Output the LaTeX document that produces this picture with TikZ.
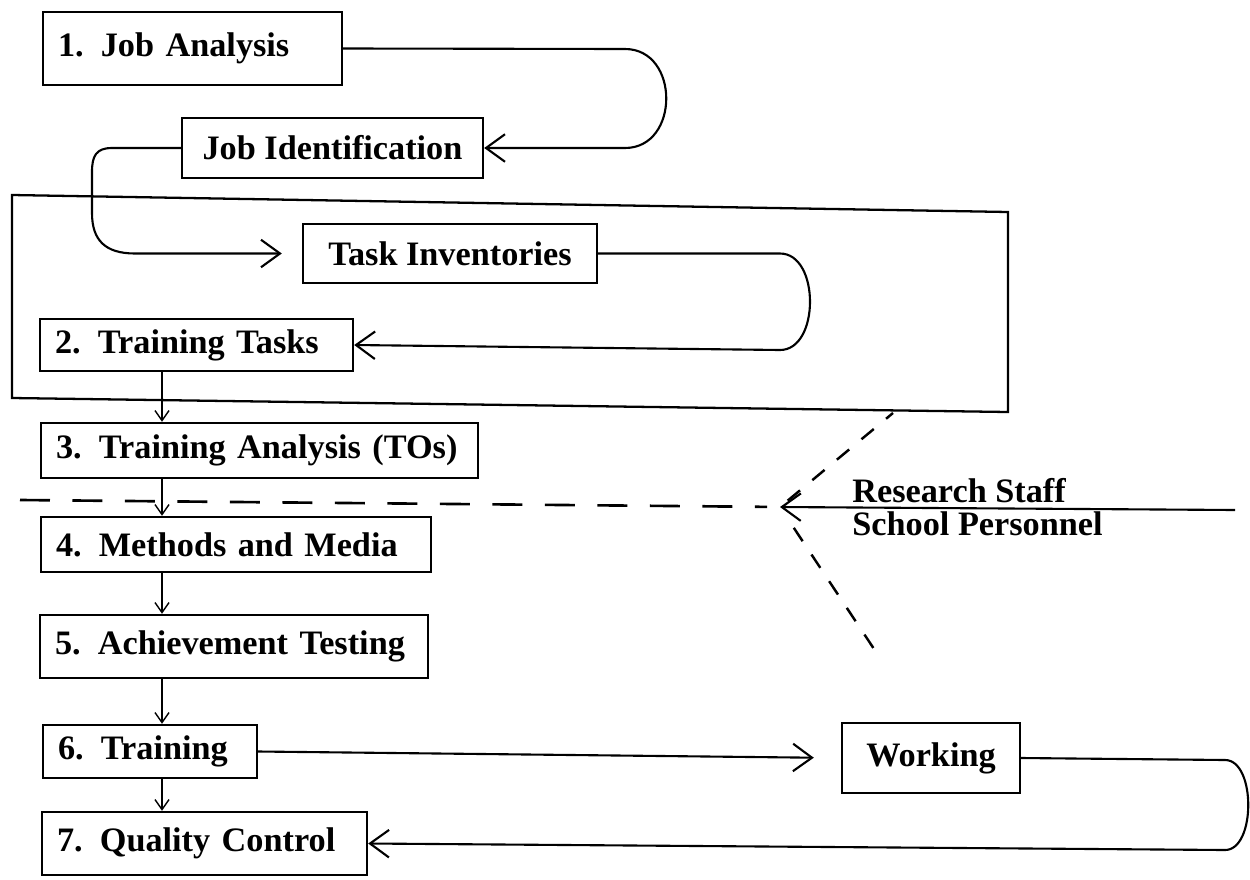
\documentclass[tikz,border=0pt]{standalone}
\usepackage{fontspec}
\setmainfont{Liberation Serif}
\usetikzlibrary{arrows.meta}
\begin{document}
\begin{tikzpicture}[x=0.02cm,y=-0.02cm,
  txt/.style={font=\bfseries\fontsize{19.5}{22}\selectfont},
  box/.style={txt, draw, line width=1.4pt, inner xsep=0.3cm, inner ysep=0pt, align=left},
  cbox/.style={txt, draw, line width=1.4pt, inner sep=0pt, align=center},
  conn/.style={line width=1.2pt, -{Straight Barb[length=0.38cm,width=0.55cm]}},
  down/.style={line width=0.8pt, -{Straight Barb[length=0.2cm,width=0.28cm]}},
  frame/.style={line width=1.3pt},
  dashh/.style={line width=1.5pt, dash pattern=on 0.6cm off 0.45cm},
  dashd/.style={line width=1.4pt, dash pattern=on 0.32cm off 0.32cm},
  lbl/.style={font=\bfseries\fontsize{19.5}{19}\selectfont, inner sep=0pt, align=left, anchor=north west}
]
\useasboundingbox (0,0) rectangle (1250,879);

% outer frame (slightly skewed as in the scan)
\draw[frame] (12,195) -- (1008,212) -- (1008,412) -- (12,398) -- cycle;

% boxes
\node[box, text width=5.38cm, minimum height=1.46cm] (ja) at (192.5,48.5) {1.\enspace Job Analysis};
\node[cbox, minimum width=6.02cm, minimum height=1.2cm] (jid) at (332.5,148) {Job Identification};
\node[cbox, minimum width=5.88cm, minimum height=1.18cm] (ti) at (450,253.5) {Task Inventories};
\node[box, text width=5.66cm, minimum height=1.04cm] (tt) at (196.5,345) {2. Training Tasks};
\node[box, text width=8.14cm, minimum height=1.1cm] (ta) at (259.5,450.5) {3. Training Analysis (TOs)};
\node[box, text width=7.2cm, minimum height=1.1cm] (mm) at (236,544.5) {4. Methods and Media};
\node[box, text width=7.16cm, minimum height=1.26cm] (at) at (234,646.5) {5. Achievement Testing};
\node[box, text width=3.68cm, minimum height=1.06cm] (tr) at (150,751.5) {6. Training};
\node[box, text width=5.9cm, minimum height=1.26cm] (qc) at (204.5,843.5) {7. Quality Control};
\node[cbox, minimum width=3.56cm, minimum height=1.4cm] (wk) at (931,758) {Working};

% label
\node[lbl] (rs) at (852,478) {Research Staff\\School Personnel};

% loops
\draw[conn] (ja.east) -- (625,49) .. controls (680,49) and (680,148) .. (625,148) -- (jid.east);
\draw[conn, shorten >=0.4cm] (jid.west) -- (112,148) .. controls (96,148) and (92,156) .. (92,172)
   -- (92,213) .. controls (92,240) and (105,253.5) .. (135,253.5) -- (ti.west);
\draw[conn] (ti.east) -- (780,253.5) .. controls (820,253.5) and (820,350) .. (780,350) -- (tt.east);
\draw[conn, shorten >=0.54cm] (tr.east) -- (wk.west);
\draw[conn] (wk.east) -- (1225,760) .. controls (1256,760) and (1256,850) .. (1225,850) -- (qc.east);

% vertical chain
\coordinate (vx) at (162,0);
\draw[down] (vx |- tt.south) -- (vx |- ta.north);
\draw[down] (vx |- ta.south) -- (vx |- mm.north);
\draw[down] (vx |- mm.south) -- (vx |- at.north);
\draw[down] (vx |- at.south) -- (vx |- tr.north);
\draw[down] (vx |- tr.south) -- (vx |- qc.north);

% research staff input
\coordinate (hub) at (780,507);
\coordinate (rin) at (1235,510);
\coordinate (dl) at (20,500);
\coordinate (du) at (893,413);
\coordinate (dd) at (878,655);
\draw[conn] (rin) -- (hub);
\draw[dashh, shorten >=0.26cm] (dl) -- (hub);
\draw[dashd, shorten <=0.2cm] (hub) -- (du);
\draw[dashd, shorten <=0.5cm] (hub) -- (dd);
\end{tikzpicture}
\end{document}
